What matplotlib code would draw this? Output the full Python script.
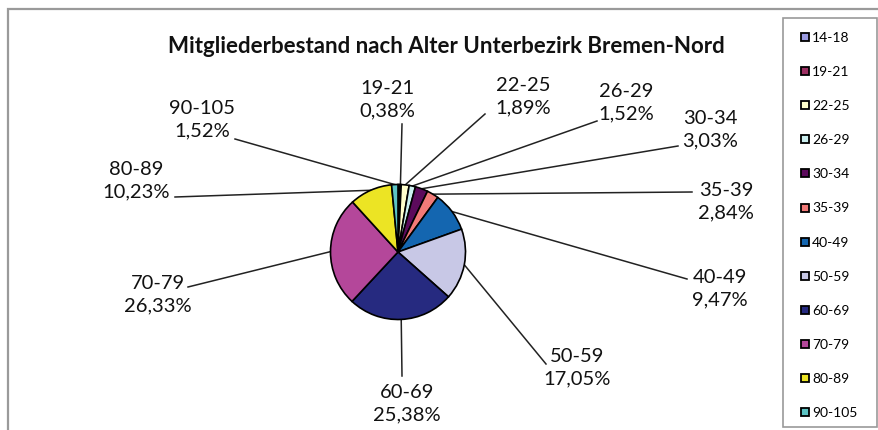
import matplotlib.pyplot as plt
from matplotlib.patches import Rectangle
import numpy as np

# data
age_groups = ['14-18', '19-21', '22-25', '26-29', '30-34', '35-39', '40-49',
              '50-59', '60-69', '70-79', '80-89', '90-105']
shares = [0.38, 0.38, 1.89, 1.52, 3.03, 2.84, 9.47, 17.05, 25.38, 26.33, 10.23, 1.52]
pct_labels = ['', '0,38%', '1,89%', '1,52%', '3,03%', '2,84%', '9,47%',
              '17,05%', '25,38%', '26,33%', '10,23%', '1,52%']
colors = ['#9999e0', '#9c2f62', '#ffffcc', '#ccf0f0', '#5c0a5c', '#f27a78',
          '#1466b0', '#c8c8e6', '#262a80', '#b4479a', '#ece424', '#5cc4c4']

W, H = 879, 431
plt.rcParams['font.family'] = ['Lato', 'DejaVu Sans']

fig = plt.figure(figsize=(W / 100, H / 100), dpi=100)
ax = fig.add_axes([0, 0, 1, 1])

def py(y):
    # pixel row (from top) -> data y
    return H - y

cx, cy, r = 398, py(253), 67.5
wedges, _ = ax.pie(shares, colors=colors, startangle=90, counterclock=False,
                   center=(cx, cy), radius=r, frame=True,
                   wedgeprops=dict(edgecolor='black', linewidth=1.2))
ax.set_xlim(0, W)
ax.set_ylim(0, H)
ax.set_aspect('equal')
ax.axis('off')

# outer chart border
ax.add_patch(Rectangle((8, -20), W, py(10) + 20, fill=False, ec='#9a9a9a', lw=1.6, clip_on=False))

ax.text(446, py(46), 'Mitgliederbestand nach Alter Unterbezirk Bremen-Nord',
        ha='center', va='center', fontsize=16, fontweight='bold', color='#111111')

# label anchors (text centre) and leader line start, pixel coords
label_pos = [None, (387, 100), (523, 97), (626, 103), (710, 130), (726, 202),
             (720, 289), (577, 368), (407, 404), (158, 295), (136, 181), (202, 120)]
line_start = [None, (402, 125), (485, 115), (597, 122), (678, 147), (692, 193),
              (687, 280), (546, 365), (402, 377), (188, 288), (175, 198), (235, 140)]

for i, w in enumerate(wedges):
    if label_pos[i] is None:
        continue
    mid = np.deg2rad((w.theta1 + w.theta2) / 2)
    ex, ey = cx + r * np.cos(mid), cy + r * np.sin(mid)
    sx, sy = line_start[i]
    ax.plot([sx, ex], [py(sy), ey], color='#222222', lw=1.1, zorder=0)
    lx, ly = label_pos[i]
    ax.text(lx, py(ly), age_groups[i] + '\n' + pct_labels[i], ha='center', va='center',
            fontsize=14.5, linespacing=1.38, color='#111111')

# legend box
ax.add_patch(Rectangle((783, py(428)), 94, 409, fill=False, ec='#9a9a9a', lw=1.2))
for i, name in enumerate(age_groups):
    yy = py(38 + i * 34.1)
    ax.add_patch(Rectangle((801, yy - 4), 8, 8, fc=colors[i], ec='black', lw=1.3))
    ax.text(812, yy, name, ha='left', va='center', fontsize=10, color='black')

fig.savefig('out.png', dpi=100)
